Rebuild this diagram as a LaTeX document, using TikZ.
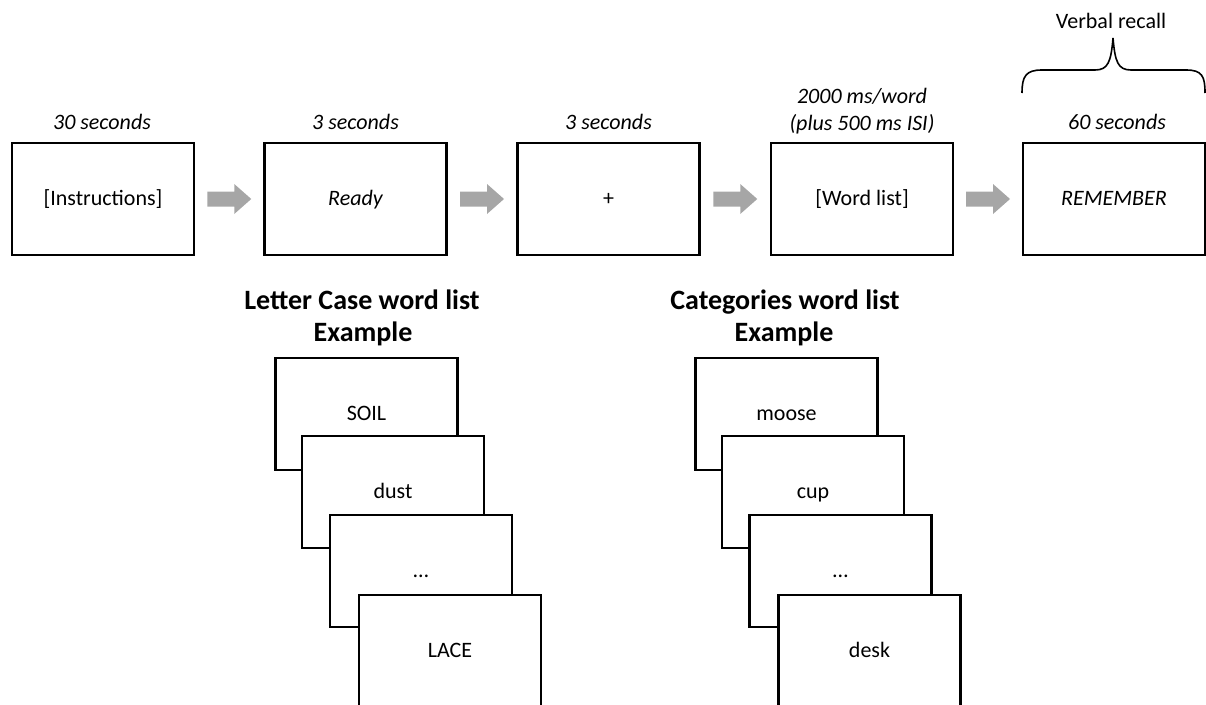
\documentclass[tikz,border=0pt]{standalone}
\usepackage{fontspec}
\setmainfont{Carlito}
\usetikzlibrary{calc}
\definecolor{arrowgray}{HTML}{A6A6A6}
\begin{document}
\begin{tikzpicture}[x=1pt,y=-1pt,
  stage/.style={draw=black, line width=2.2pt, fill=white, minimum width=182pt, minimum height=112pt,
    inner sep=0pt, text height=13pt, text depth=0pt, font=\fontsize{22}{26}\selectfont},
  card/.style={stage},
  timelbl/.style={font=\fontsize{22}{26}\selectfont\itshape, inner sep=0pt, anchor=base},
  plainlbl/.style={font=\fontsize{22}{26}\selectfont, inner sep=0pt, anchor=base},
  titlelbl/.style={font=\fontsize{28}{32}\selectfont\bfseries, inner sep=0pt, anchor=base},
  flowarrow/.style={fill=arrowgray, draw=none},
  bracestyle/.style={draw=black, line width=1.6pt}
]
\useasboundingbox (0,0) rectangle (1206,704);
\clip (0,0) rectangle (1206,704);

% top row of stages
\node[stage] (s1) at (103,199) {[Instructions]};
\node[stage] (s2) at (355.5,199) {\itshape Ready};
\node[stage] (s3) at (608.5,199) {+};
\node[stage] (s4) at (862,199) {[Word list]};
\node[stage] (s5) at (1114,199) {\itshape REMEMBER};

% block arrows between stages
\foreach \a/\b in {s1/s2,s2/s3,s3/s4,s4/s5} {
  \fill[flowarrow, shift={($(\a.east)!0.5!(\b.west)$)}]
    (-22,-7.5) -- (5,-7.5) -- (5,-15) -- (22,0) -- (5,15) -- (5,7.5) -- (-22,7.5) -- cycle;
}

% timing labels
\node[timelbl] (t1) at (102,129) {30 seconds};
\node[timelbl] (t2) at (355.5,129) {3 seconds};
\node[timelbl] (t3) at (608.5,129) {3 seconds};
\node[timelbl] (t4a) at (862,103) {2000 ms/word};
\node[timelbl] (t4b) at (862,130) {(plus 500 ms ISI)};
\node[timelbl] (t5) at (1117,129) {60 seconds};
\node[plainlbl] (vr) at (1111,28) {Verbal recall};

% brace
\draw[bracestyle] (1022,93) .. controls (1022,76) and (1026,70) .. (1042,70) -- (1095,70)
  .. controls (1108,70) and (1111,62) .. (1113,38)
  .. controls (1115,62) and (1118,70) .. (1131,70) -- (1186,70)
  .. controls (1202,70) and (1205,76) .. (1205,93);

% titles
\node[titlelbl] (lt1) at (362,309) {Letter Case word list};
\node[titlelbl] (lt2) at (363,341) {Example};
\node[titlelbl] (rt1) at (785,309) {Categories word list};
\node[titlelbl] (rt2) at (784,341) {Example};

% letter case stack
\node[card] (l1) at (366.5,414) {SOIL};
\node[card] (l2) at (393,492) {dust};
\node[card] (l3) at (421,571) {…};
\node[card] (l4) at (450,651) {LACE};

% categories stack
\node[card] (r1) at (786.5,414) {moose};
\node[card] (r2) at (813,492) {cup};
\node[card] (r3) at (840.5,571) {…};
\node[card] (r4) at (869.5,651) {desk};
\end{tikzpicture}
\end{document}
